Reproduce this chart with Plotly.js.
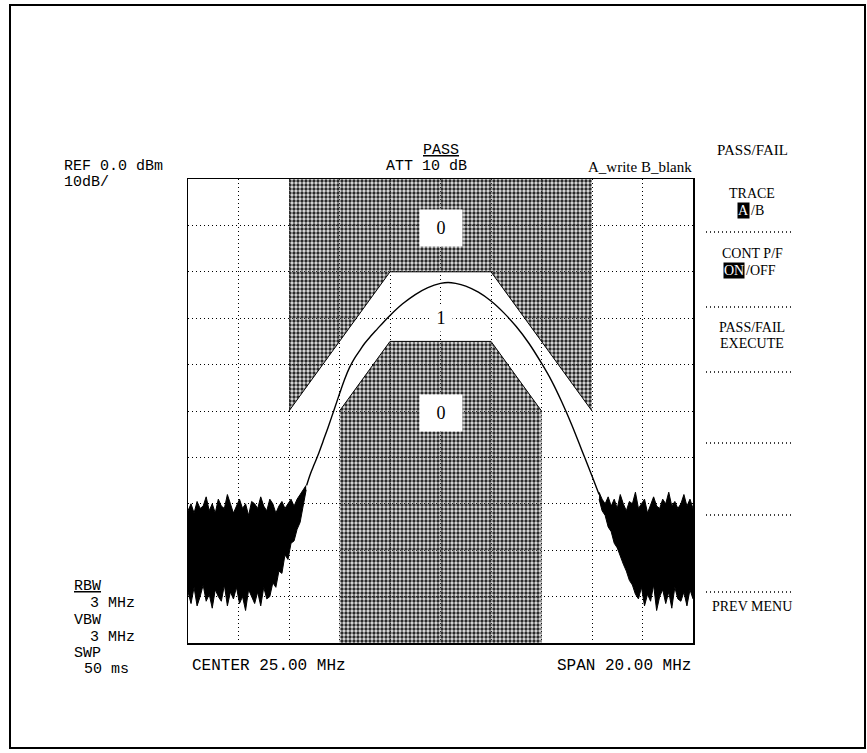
<!DOCTYPE html>
<html><head><meta charset="utf-8">
<script src="https://cdn.plot.ly/plotly-3.0.1.min.js"></script>
<style>body{margin:0;background:#fff}</style>
</head><body><div id="chart" style="width:867px;height:753px"></div>
<script>
// Spectrum trace (MHz, dBm)
const curveX = [19.7,19.85,20.0,20.15,20.35,20.55,20.8,21.0,21.2,21.4,21.6,21.8,22.0,22.25,22.5,22.75,23.0,23.5,24.0,24.5,25.0,25.3,25.6,26.0,26.5,27.0,27.5,28.0,28.5,29.0,29.4,29.8,30.2,30.6,31.0,31.28];
const curveY = [-66,-63.5,-61.5,-59.5,-56.5,-53.5,-49.5,-46.3,-43.2,-40.6,-38.6,-37,-35.4,-33.8,-32.3,-30.8,-29.4,-26.9,-24.9,-23.4,-22.5,-22.3,-22.5,-23.1,-24.4,-26.3,-28.8,-31.8,-35.4,-39.7,-43.5,-48,-53,-58.5,-64,-68];

// Noise floor envelopes (left starts 15 MHz, right starts 31.28 MHz, 0.12 MHz step)
const noiseLTop = [-71.5,-70,-72,-69.5,-71,-70.5,-68.5,-71.5,-70,-72,-69,-70.5,-71,-68,-70,-72,-70.5,-69,-71,-70,-72.5,-69.5,-70,-71,-68.5,-70.5,-71.5,-69,-70,-72,-70.5,-69.5,-71,-70,-69,-70.5,-69,-68,-67,-66];
const noiseLBot = [-89,-91.5,-88,-92,-90,-87.5,-91,-89.5,-92.5,-88.5,-90,-91,-87.5,-92,-89,-90.5,-88,-91.5,-90,-93,-88.5,-90,-91.5,-89,-92,-88,-90.5,-90,-87,-88,-84.5,-85,-81,-82,-78.5,-78,-75.5,-74,-70.5,-67];
const noiseRTop = [-67.5,-69,-70,-68.5,-70.5,-69,-71,-68,-70,-71.5,-69.5,-70,-67.5,-71,-70,-69,-72,-70,-68.5,-70.5,-71,-69,-70,-67.5,-70.5,-69.5,-71,-70,-68,-70.5,-69,-71];
const noiseRBot = [-69,-71.5,-72.5,-75,-76,-78.5,-79.5,-81.5,-83,-84.5,-86.5,-87.5,-89.5,-90.5,-88,-92,-89.5,-91,-87.5,-93,-90,-88.5,-91.5,-89,-92.5,-88,-90.5,-91,-89,-92,-88.5,-90.5];

// Pass/fail limit masks
const upperLimitX = [19,23,27,31];
const upperLimitY = [-50,-20,-20,-50];
const lowerLimitX = [21,23,27,29];
const lowerLimitY = [-50,-35,-35,-50];
const upperZoneX = [19,19,23,27,31,31];
const upperZoneY = [0,-50,-20,-20,-50,0];
const lowerZoneX = [21,21,23,27,29,29];
const lowerZoneY = [-100,-50,-35,-35,-50,-100];
const zoneLabels = ['0','1','0'];
const zoneLabelX = [25,25,25];
const zoneLabelY = [-10.5,-30,-50.5];

const L=188, R=693, T=179, B=643;
const pxX = v => (v-L)/(R-L);
const pxY = v => (B-v)/(B-T);

const pat = {shape:'.', fgcolor:'#2a2a2a', bgcolor:'rgba(160,160,160,0.3)', size:4, solidity:0.55};
const traces = [
  {x:upperZoneX, y:upperZoneY, mode:'lines', fill:'toself', line:{width:0}, fillcolor:'rgba(0,0,0,0)', fillpattern:pat, hoverinfo:'skip'},
  {x:lowerZoneX, y:lowerZoneY, mode:'lines', fill:'toself', line:{width:0}, fillcolor:'rgba(0,0,0,0)', fillpattern:pat, hoverinfo:'skip'},
  {x:upperLimitX, y:upperLimitY, mode:'lines', line:{color:'#000', width:1}},
  {x:lowerLimitX, y:lowerLimitY, mode:'lines', line:{color:'#000', width:1}},
  {x0:15, dx:0.12, y:noiseLTop, mode:'lines', line:{color:'#000', width:1}},
  {x0:15, dx:0.12, y:noiseLBot, mode:'lines', line:{color:'#000', width:1}, fill:'tonexty', fillcolor:'#000'},
  {x0:31.28, dx:0.12, y:noiseRTop, mode:'lines', line:{color:'#000', width:1}},
  {x0:31.28, dx:0.12, y:noiseRBot, mode:'lines', line:{color:'#000', width:1}, fill:'tonexty', fillcolor:'#000'},
  {x:curveX, y:curveY, mode:'lines', line:{color:'#000', width:1.4, shape:'spline', smoothing:1}}
];

const mono = 'Liberation Mono, monospace';
const serif = 'Liberation Serif, serif';
function txt(t, x, y, anchor, fam, size, extra){
  return Object.assign({text:t, xref:'paper', yref:'paper', x:pxX(x), y:pxY(y), xanchor:anchor, yanchor:'middle', showarrow:false, font:{family:fam, size:size, color:'#000'}}, extra||{});
}
const ann = [
  txt('<u>PASS</u>', 441, 150, 'center', mono, 15),
  txt('ATT 10 dB', 426, 167, 'center', mono, 15),
  txt('REF 0.0 dBm', 62, 167, 'left', mono, 15),
  txt('10dB/', 62, 182, 'left', mono, 15),
  txt('A_write B_blank', 694, 167, 'right', serif, 15),
  txt('PASS/FAIL', 752, 150, 'center', serif, 15),
  txt('TRACE', 752, 193, 'center', serif, 14),
  txt('A', 743, 210, 'center', serif, 14, {bgcolor:'#000', font:{family:serif,size:14,color:'#fff'}, borderpad:0}),
  txt('/B', 749, 210, 'left', serif, 14),
  txt('CONT P/F', 752, 253, 'center', serif, 14),
  txt('ON', 734, 270, 'center', serif, 14, {bgcolor:'#000', font:{family:serif,size:14,color:'#fff'}, borderpad:0}),
  txt('/OFF', 744, 270, 'left', serif, 14),
  txt('PASS/FAIL', 752, 327, 'center', serif, 14),
  txt('EXECUTE', 752, 343, 'center', serif, 14),
  txt('PREV MENU', 752, 606, 'center', serif, 14),
  txt('<u>RBW</u>', 72, 586, 'left', mono, 15),
  txt('3 MHz', 88, 603, 'left', mono, 15),
  txt('VBW', 72, 620, 'left', mono, 15),
  txt('3 MHz', 88, 637, 'left', mono, 15),
  txt('SWP', 72, 653, 'left', mono, 15),
  txt('50 ms', 82, 669, 'left', mono, 15),
  txt('CENTER 25.00 MHz', 190, 666, 'left', mono, 16),
  txt('SPAN 20.00 MHz', 693, 666, 'right', mono, 16)
];
zoneLabels.forEach((t,i)=>{
  ann.push({text:t, x:zoneLabelX[i], y:zoneLabelY[i], xref:'x', yref:'y', showarrow:false,
    bgcolor:'#fff', width: t==='1'?20:40, height: t==='1'?24:34,
    font:{family:serif, size:18, color:'#000'}});
});

const shapes = [
  {type:'rect', xref:'paper', yref:'paper', x0:pxX(10), x1:pxX(865), y0:pxY(748), y1:pxY(5), line:{color:'#000', width:2}}
];
[232,307,372,443,515,592].forEach(yy=>{
  shapes.push({type:'line', xref:'paper', yref:'paper', x0:pxX(706), x1:pxX(793), y0:pxY(yy), y1:pxY(yy), line:{color:'#000', width:1.5, dash:'1px,3px'}});
});

const layout = {
  width:867, height:753, showlegend:false,
  margin:{l:L, r:867-R, t:T, b:753-B, pad:0},
  paper_bgcolor:'#fff', plot_bgcolor:'#fff',
  xaxis:{range:[15,35], tick0:15, dtick:2, showgrid:true, gridcolor:'#000', gridwidth:1, griddash:'1px,3px',
    showticklabels:false, ticks:'', zeroline:false, showline:true, mirror:true, linecolor:'#000', linewidth:1.5, fixedrange:true},
  yaxis:{range:[-100,0], tick0:0, dtick:10, showgrid:true, gridcolor:'#000', gridwidth:1, griddash:'1px,3px',
    showticklabels:false, ticks:'', zeroline:false, showline:true, mirror:true, linecolor:'#000', linewidth:1.5, fixedrange:true},
  annotations:ann, shapes:shapes
};
Plotly.newPlot('chart', traces, layout, {staticPlot:true});
</script></body></html>
